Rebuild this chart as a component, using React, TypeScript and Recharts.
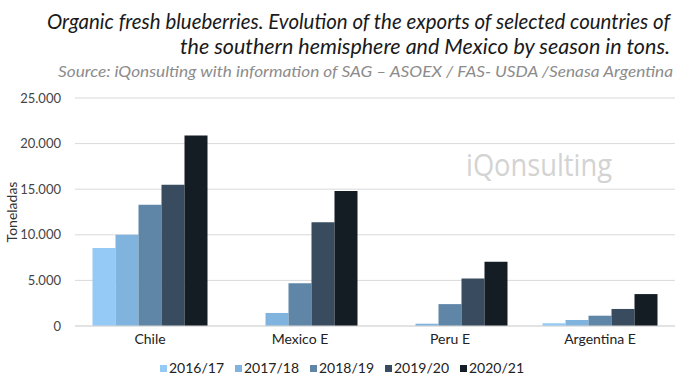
import React from "react";
import {
  BarChart,
  Bar,
  XAxis,
  YAxis,
  CartesianGrid,
  Label,
} from "recharts";

// Categories and seasons
const countries = ["Chile", "Mexico E", "Peru E", "Argentina E"];
const seasons = ["2016/17", "2017/18", "2018/19", "2019/20", "2020/21"];

// Exports in tons, per season (same order as countries)
const s2016 = [8550, 0, 0, 300];
const s2017 = [10000, 1430, 250, 660];
const s2018 = [13300, 4700, 2400, 1130];
const s2019 = [15500, 11380, 5200, 1870];
const s2020 = [20900, 14800, 7050, 3500];

const yTicks = [0, 5000, 10000, 15000, 20000, 25000];

const seriesValues = [s2016, s2017, s2018, s2019, s2020];
const colors = ["#94caf5", "#80b4df", "#5f86a7", "#394c5f", "#141d24"];

const chartData = countries.map((name, i) => {
  const row: Record<string, string | number> = { name };
  seasons.forEach((s, k) => {
    row[s] = seriesValues[k][i];
  });
  return row;
});

const fmt = (v: number) =>
  v === 0 ? "0" : v.toLocaleString("de-DE");

const FONT = "Lato, 'Open Sans', sans-serif";

// y axis title, drawn by hand so the font size sticks
const YTitle = (props: any) => {
  const vb = props.viewBox || { x: 0, y: 0, height: 0 };
  const cx = 11;
  const cy = vb.y + vb.height / 2;
  return (
    <text
      x={cx}
      y={cy}
      transform={`rotate(-90, ${cx}, ${cy})`}
      textAnchor="middle"
      dominantBaseline="central"
      style={{ fontSize: 14, fontFamily: FONT }}
      fill="#333"
    >
      Toneladas
    </text>
  );
};

export default function App() {
  return (
    <div
      style={{
        position: "absolute",
        left: 0,
        top: 0,
        width: 691,
        height: 387,
        background: "#fff",
        fontFamily: FONT,
      }}
    >
      <svg
        width={691}
        height={90}
        style={{ position: "absolute", left: 0, top: 0 }}
      >
        <text
          x={47}
          y={29}
          textLength={623}
          lengthAdjust="spacingAndGlyphs"
          fontSize={21}
          fontStyle="italic"
          fill="#1a1a1a"
          fontFamily={FONT}
        >
          Organic fresh blueberries. Evolution of the exports of selected countries of
        </text>
        <text
          x={180}
          y={54}
          textLength={490}
          lengthAdjust="spacingAndGlyphs"
          fontSize={21}
          fontStyle="italic"
          fill="#1a1a1a"
          fontFamily={FONT}
        >
          the southern hemisphere and Mexico by season in tons.
        </text>
        <text
          x={58}
          y={77}
          textLength={615}
          lengthAdjust="spacingAndGlyphs"
          fontSize={15}
          fontStyle="italic"
          fill="#8c8c8c"
          fontFamily={FONT}
        >
          Source: iQonsulting with information of SAG – ASOEX / FAS- USDA /Senasa Argentina
        </text>
      </svg>

      <div style={{ position: "absolute", left: 0, top: 0 }}>
        <BarChart
          width={691}
          height={387}
          data={chartData}
          margin={{ top: 98, right: 16, bottom: 31, left: 0 }}
          barCategoryGap={17.5}
          barGap={0}
        >
          <CartesianGrid vertical={false} stroke="#d9d9d9" />
          <XAxis
            dataKey="name"
            axisLine={{ stroke: "#d9d9d9" }}
            tickLine={false}
            height={30}
            tick={{ fontSize: 14, fill: "#222", fontFamily: FONT }}
            tickMargin={2}
          />
          <YAxis
            width={75}
            domain={[0, 25000]}
            ticks={yTicks}
            tickFormatter={fmt}
            axisLine={false}
            tickLine={false}
            tick={{ fontSize: 13, fill: "#444", fontFamily: FONT }}
            tickMargin={8}
          >
            <Label content={YTitle} />
          </YAxis>
          {seasons.map((s, i) => (
            <Bar
              key={s}
              dataKey={s}
              fill={colors[i]}
              isAnimationActive={false}
            />
          ))}
        </BarChart>
      </div>

      {/* legend */}
      <div
        style={{
          position: "absolute",
          left: 160,
          top: 359,
          display: "flex",
          fontFamily: FONT,
          fontSize: 14,
          color: "#222",
          lineHeight: "18px",
        }}
      >
        {seasons.map((s, i) => (
          <div
            key={s}
            style={{ display: "flex", alignItems: "center", width: 75 }}
          >
            <span
              style={{
                display: "inline-block",
                width: 7,
                height: 7,
                background: colors[i],
                marginRight: 2,
              }}
            />
            <span>{s}</span>
          </div>
        ))}
      </div>

      {/* watermark */}
      <svg
        width={200}
        height={50}
        style={{ position: "absolute", left: 460, top: 140 }}
      >
        <text
          x={6}
          y={36}
          textLength={146}
          lengthAdjust="spacingAndGlyphs"
          fontSize={31}
          fill="#d3d3d3"
          fontFamily="'Open Sans', sans-serif"
        >
          iQonsulting
        </text>
      </svg>
    </div>
  );
}
